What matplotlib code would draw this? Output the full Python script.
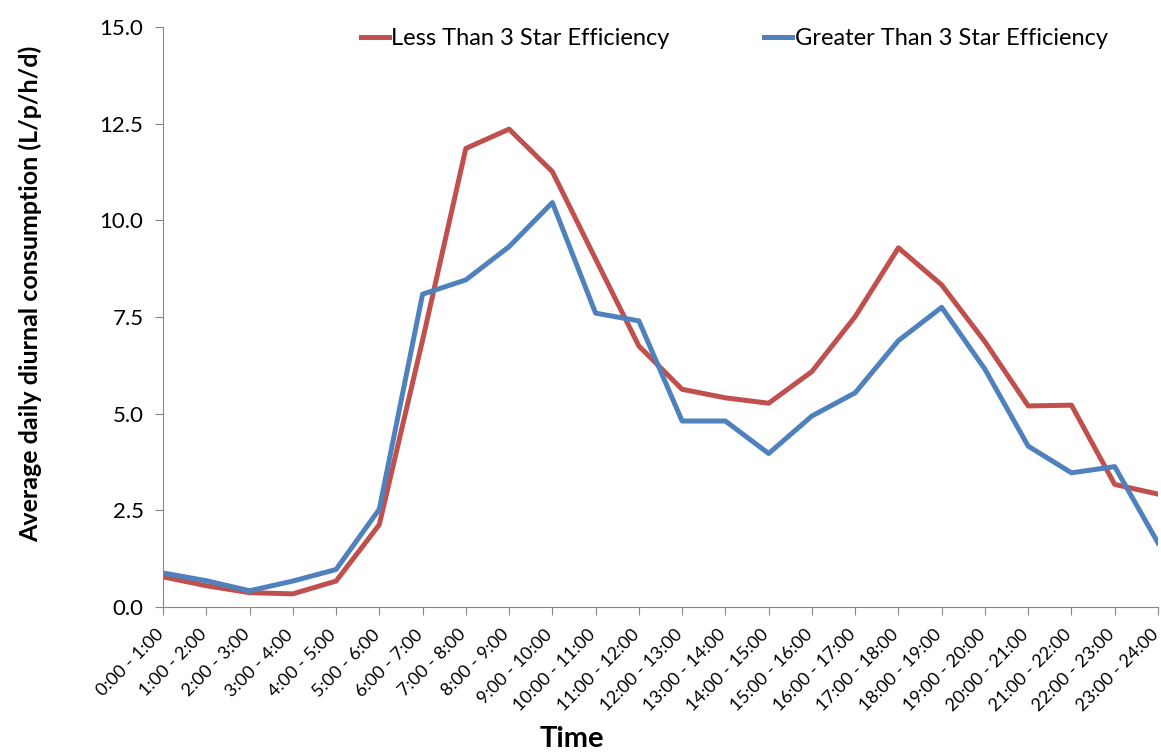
import matplotlib.pyplot as plt
import matplotlib.transforms as mtransforms

plt.rcParams['font.family'] = ['Lato', 'DejaVu Sans']

hours = ['%d:00 - %d:00' % (h, h + 1) for h in range(24)]
less_3_star = [0.78, 0.55, 0.37, 0.34, 0.67, 2.13, 6.9, 11.86, 12.36, 11.26, 9.0, 6.75,
               5.63, 5.41, 5.27, 6.09, 7.51, 9.29, 8.33, 6.86, 5.2, 5.22, 3.17, 2.92]
greater_3_star = [0.88, 0.68, 0.42, 0.67, 0.97, 2.53, 8.09, 8.46, 9.32, 10.46, 7.6, 7.4,
                  4.81, 4.81, 3.97, 4.94, 5.54, 6.89, 7.75, 6.15, 4.16, 3.47, 3.63, 1.66]
yticks = [0, 2.5, 5, 7.5, 10, 12.5, 15]

fig = plt.figure(figsize=(11.61, 7.53), dpi=100)
ax = fig.add_axes([0.1404, 0.1939, 0.8570, 0.7702])

x = range(len(hours))
ax.plot(x, less_3_star, color='#C0504D', linewidth=3.6, label='Less Than 3 Star Efficiency')
ax.plot(x, greater_3_star, color='#4F81BD', linewidth=3.6, label='Greater Than 3 Star Efficiency')

ax.set_xlim(0, len(hours) - 1)
ax.set_ylim(0, 15)
ax.set_yticks(yticks)
ax.set_yticklabels(['%.1f' % v for v in yticks], fontsize=16)
ax.set_xticks(list(x))
ax.set_xticklabels(hours, rotation=45, ha='right', rotation_mode='anchor', fontsize=13)

for side in ['top', 'right']:
    ax.spines[side].set_visible(False)
for side in ['left', 'bottom']:
    ax.spines[side].set_color('#868686')
ax.tick_params(axis='both', color='#868686', length=6, direction='out')
ax.tick_params(axis='x', pad=8)
ax.tick_params(axis='y', pad=8)

ax.set_ylabel('Average daily diurnal consumption (L/p/h/d)', fontsize=18, fontweight='bold')
ax.yaxis.set_label_coords(-0.1216, 0.54)
ax.set_xlabel('Time', fontsize=21, fontweight='bold')
ax.xaxis.set_label_coords(0.411, -0.205)

ax.legend(loc='upper center', bbox_to_anchor=(0.574, 1.035), ncol=2, frameon=False,
          fontsize=17, handlelength=1.2, handletextpad=0.1, columnspacing=4.0)

# nudge the rotated labels a little left so the last one stays inside the figure
fig.canvas.draw()
shift = mtransforms.ScaledTranslation(-8 / 100, 0, fig.dpi_scale_trans)
for tick in ax.xaxis.get_major_ticks():
    tick.label1.set_transform(tick.label1.get_transform() + shift)

fig.savefig('out.png', dpi=100)
